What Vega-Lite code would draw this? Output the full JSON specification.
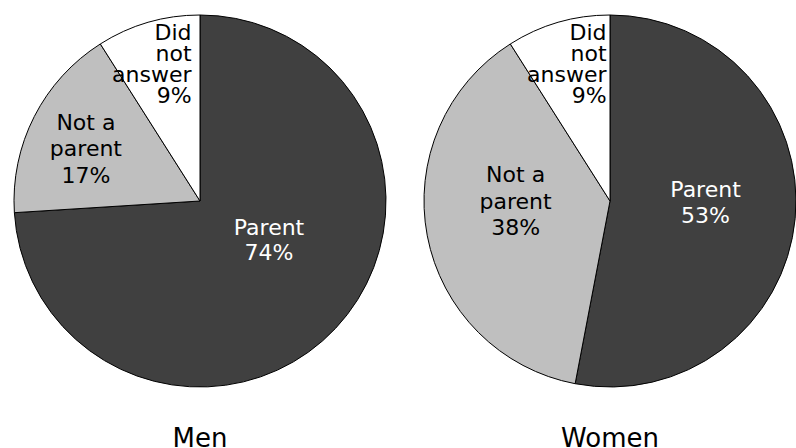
{
  "$schema": "https://vega.github.io/schema/vega-lite/v6.json",
  "padding": {"left": 12, "top": 13, "right": 0, "bottom": 0},
  "background": "white",
  "spacing": 38,
  "bounds": "flush",
  "config": {"view": {"stroke": null}, "font": "DejaVu Sans"},
  "datasets": {
    "pies": [
      {"gender": "Men", "category": "Parent", "value": 74, "label": "Parent\n74%"},
      {"gender": "Men", "category": "Not a parent", "value": 17, "label": "Not a\nparent\n17%"},
      {"gender": "Men", "category": "Did not answer", "value": 9, "label": "Did\nnot\nanswer\n9%"},
      {"gender": "Women", "category": "Parent", "value": 53, "label": "Parent\n53%"},
      {"gender": "Women", "category": "Not a parent", "value": 38, "label": "Not a\nparent\n38%"},
      {"gender": "Women", "category": "Did not answer", "value": 9, "label": "Did\nnot\nanswer\n9%"}
    ]
  },
  "hconcat": [
    {
      "width": 372,
      "height": 372,
      "title": {"text": "Men", "orient": "bottom", "anchor": "middle", "fontSize": 26, "fontWeight": "normal", "font": "DejaVu Sans", "color": "#000000", "offset": 37, "baseline": "top"},
      "data": {"name": "pies"},
      "transform": [
        {"filter": "datum.gender === 'Men'"},
        {"window": [{"op": "row_number", "as": "idx"}]}
      ],
      "encoding": {
        "theta": {"field": "value", "type": "quantitative", "stack": true},
        "order": {"field": "idx", "type": "quantitative"}
      },
      "layer": [
        {
          "mark": {"type": "arc", "outerRadius": 186, "stroke": "#000000", "strokeWidth": 1},
          "encoding": {
            "color": {"field": "category", "type": "nominal", "scale": {"domain": ["Parent", "Not a parent", "Did not answer"], "range": ["#404040", "#bfbfbf", "#ffffff"]}, "legend": null}
          }
        },
        {
          "mark": {"type": "text", "radius": 70, "dx": 18, "dy": -21, "fontSize": 22, "lineHeight": 25.5, "lineBreak": "\n", "align": "center", "baseline": "middle", "color": "#ffffff"},
          "encoding": {"text": {"condition": {"test": "datum.category === 'Parent'", "field": "label"}, "value": ""}}
        },
        {
          "mark": {"type": "text", "radius": 137, "dx": 8, "dy": -16, "fontSize": 22, "lineHeight": 26.5, "lineBreak": "\n", "align": "center", "baseline": "middle", "color": "#000000"},
          "encoding": {"text": {"condition": {"test": "datum.category === 'Not a parent'", "field": "label"}, "value": ""}}
        },
        {
          "mark": {"type": "text", "radius": 170, "dx": 39, "dy": -5, "fontSize": 22, "lineHeight": 21, "lineBreak": "\n", "align": "right", "baseline": "middle", "color": "#000000"},
          "encoding": {"text": {"condition": {"test": "datum.category === 'Did not answer'", "field": "label"}, "value": ""}}
        }
      ]
    },
    {
      "width": 372,
      "height": 372,
      "title": {"text": "Women", "orient": "bottom", "anchor": "middle", "fontSize": 26, "fontWeight": "normal", "font": "DejaVu Sans", "color": "#000000", "offset": 37, "baseline": "top"},
      "data": {"name": "pies"},
      "transform": [
        {"filter": "datum.gender === 'Women'"},
        {"window": [{"op": "row_number", "as": "idx"}]}
      ],
      "encoding": {
        "theta": {"field": "value", "type": "quantitative", "stack": true},
        "order": {"field": "idx", "type": "quantitative"}
      },
      "layer": [
        {
          "mark": {"type": "arc", "outerRadius": 186, "stroke": "#000000", "strokeWidth": 1},
          "encoding": {
            "color": {"field": "category", "type": "nominal", "scale": {"domain": ["Parent", "Not a parent", "Did not answer"], "range": ["#404040", "#bfbfbf", "#ffffff"]}, "legend": null}
          }
        },
        {
          "mark": {"type": "text", "radius": 96, "dy": -20, "fontSize": 22, "lineHeight": 25.5, "lineBreak": "\n", "align": "center", "baseline": "middle", "color": "#ffffff"},
          "encoding": {"text": {"condition": {"test": "datum.category === 'Parent'", "field": "label"}, "value": ""}}
        },
        {
          "mark": {"type": "text", "radius": 92, "dx": -4, "dy": -43, "fontSize": 22, "lineHeight": 26.5, "lineBreak": "\n", "align": "center", "baseline": "middle", "color": "#000000"},
          "encoding": {"text": {"condition": {"test": "datum.category === 'Not a parent'", "field": "label"}, "value": ""}}
        },
        {
          "mark": {"type": "text", "radius": 170, "dx": 44, "dy": -5, "fontSize": 22, "lineHeight": 21, "lineBreak": "\n", "align": "right", "baseline": "middle", "color": "#000000"},
          "encoding": {"text": {"condition": {"test": "datum.category === 'Did not answer'", "field": "label"}, "value": ""}}
        }
      ]
    }
  ]
}
